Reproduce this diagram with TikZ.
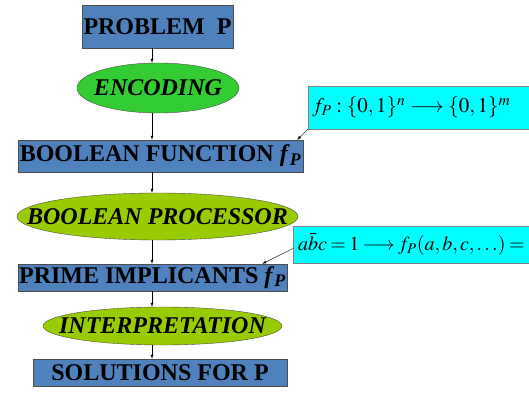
\documentclass[tikz,border=0pt]{standalone}
\usepackage{mathptmx}
\usepackage[no-math]{fontspec}
\setmainfont{Liberation Serif}
\usepackage{tikz}
\usepackage{xcolor}
\usetikzlibrary{shapes.geometric}
\definecolor{stepblue}{RGB}{79,129,189}
\definecolor{encgreen}{RGB}{51,204,51}
\definecolor{procgreen}{RGB}{153,204,0}
\definecolor{notecyan}{RGB}{0,255,255}
\definecolor{rim}{gray}{0.3}
\newcommand{\narrowtext}[1]{\makebox[0pt]{#1}}

\begin{document}
\begin{tikzpicture}[x=1pt,y=-1pt,
  stepbox/.style={rectangle,draw=rim,fill=stepblue,inner sep=0pt,
    font=\fontsize{24}{24}\selectfont\bfseries},
  actell/.style={ellipse,draw=rim,inner sep=0pt,
    font=\fontsize{24}{24}\selectfont\bfseries\itshape},
  notebox/.style={rectangle,draw=gray,fill=notecyan,inner ysep=0pt,inner xsep=4pt,
    anchor=west,text width=260pt,align=left}]
  \useasboundingbox (0,0) rectangle (529,395);
  \clip (0,0) rectangle (529,395);
  \coordinate (spine) at (152,0);
  % main chain
  \node[stepbox,minimum width=151pt,minimum height=43pt] (prob) at (157.5,26.5) {PROBLEM\ \ P};
  \node[actell,fill=encgreen,minimum width=162pt,minimum height=50pt] (enc) at (158,88) {\narrowtext{ENCODING}};
  \node[stepbox,minimum width=285pt,minimum height=32pt] (bfun) at (160.5,156) {BOOLEAN FUNCTION \textit{f}\textsubscript{\textit{P}}};
  \node[actell,fill=procgreen,minimum width=281pt,minimum height=47pt] (bproc) at (157.5,216.5) {\narrowtext{BOOLEAN PROCESSOR}};
  \node[stepbox,minimum width=269pt,minimum height=27pt] (prime) at (152.5,277.5) {PRIME IMPLICANTS \textit{f}\textsubscript{\textit{P}}};
  \node[actell,fill=procgreen,minimum width=239pt,minimum height=38pt] (interp) at (162.5,326) {\narrowtext{INTERPRETATION}};
  \node[stepbox,minimum width=254pt,minimum height=27pt] (sol) at (160,372.5) {SOLUTIONS FOR P};
  \foreach \a/\b in {prob/enc, enc/bfun, bfun/bproc, bproc/prime, prime/interp, interp/sol}
    {\draw[-latex] (\a.south -| spine) -- (\b.north -| spine);}
  % notes
  \node[notebox,minimum height=43pt,font=\fontsize{21}{21}\selectfont] (map) at (308,107.5)
    {\mbox{$f_P:\{0,1\}^n\longrightarrow\{0,1\}^m$}};
  \node[notebox,minimum height=37pt,font=\fontsize{20}{20}\selectfont,inner xsep=5pt] (impl) at (293,244.5)
    {\thickmuskip=3mu \mbox{$a\bar{b}c=1\longrightarrow f_P(a,b,c,\ldots)=$}};
  \draw[-latex] (map.south west) -- ([xshift=-6pt]bfun.north east);
  \draw[-latex] ([yshift=-4pt]impl.west) -- ([xshift=-25pt]prime.north east);
\end{tikzpicture}
\end{document}
